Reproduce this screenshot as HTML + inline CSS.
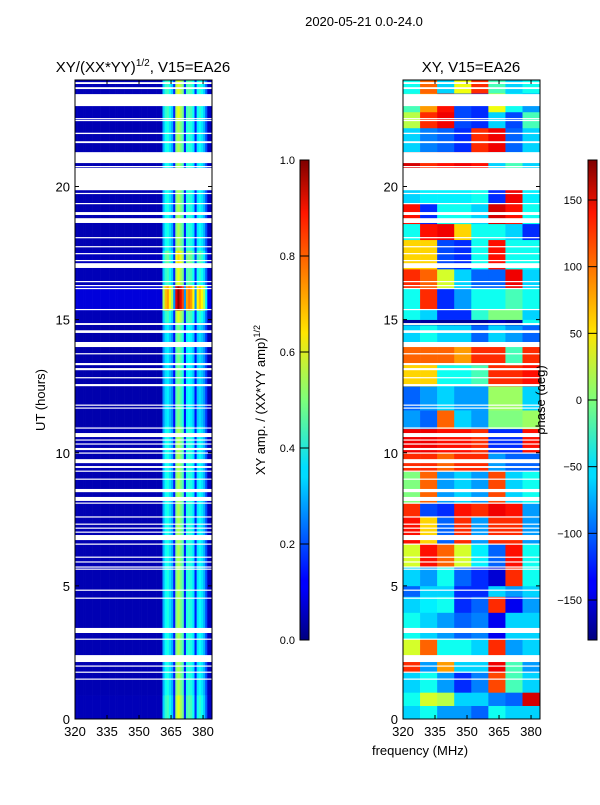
<!DOCTYPE html>
<html><head><meta charset="utf-8"><style>
body{margin:0;background:#fff;width:600px;height:800px;overflow:hidden;font-family:"Liberation Sans",sans-serif}
svg text{font-family:"Liberation Sans",sans-serif;fill:#000}
</style></head><body>
<svg id="fig" width="600" height="800" xmlns="http://www.w3.org/2000/svg">
<defs>
<linearGradient id="jet" x1="0" y1="1" x2="0" y2="0">
<stop offset="0" stop-color="#00007f"/><stop offset="0.11" stop-color="#0000ff"/><stop offset="0.125" stop-color="#0000ff"/>
<stop offset="0.34" stop-color="#00dbff"/><stop offset="0.36" stop-color="#0df"/><stop offset="0.5" stop-color="#7dff7a"/>
<stop offset="0.64" stop-color="#ffe500"/><stop offset="0.89" stop-color="#ff1600"/><stop offset="1" stop-color="#7f0000"/>
</linearGradient>
</defs>
<text x="364" y="26" font-size="13" text-anchor="middle">2020-05-21 0.0-24.0</text>
<text x="143" y="72" font-size="15" text-anchor="middle">XY/(XX*YY)<tspan font-size="10" dy="-6">1/2</tspan><tspan dy="6">, V15=EA26</tspan></text>
<text x="471" y="72" font-size="15" text-anchor="middle">XY, V15=EA26</text>
<g id="leftPanel"></g>
<g id="rightPanel"></g>
<g id="axes"></g>
<text transform="translate(45,400) rotate(-90)" font-size="13" text-anchor="middle">UT (hours)</text>
<text transform="translate(265,400) rotate(-90)" font-size="13" text-anchor="middle">XY amp. / (XX*YY amp)<tspan font-size="9" dy="-5">1/2</tspan></text>
<text transform="translate(545,400) rotate(-90)" font-size="13" text-anchor="middle">phase (deg)</text>
<text x="420" y="755" font-size="13" text-anchor="middle">frequency (MHz)</text>
<rect x="300" y="160" width="9" height="480" fill="url(#jet)" stroke="#000" stroke-width="1"/>
<rect x="588" y="160" width="9" height="480" fill="url(#jet)" stroke="#000" stroke-width="1"/>
</svg>
<script>
// ---- data ----
const freqStart = 320;
const ampProfile = [0.05,0.05,0.05,0.05,0.05,0.05,0.05,0.05,0.05,0.05,0.05,0.05,0.05,0.05,0.05,0.05,0.05,0.05,0.05,0.05,0.05,0.05,0.05,0.05,0.05,0.05,0.05,0.05,0.05,0.05,0.05,0.05,0.05,0.05,0.05,0.05,0.05,0.05,0.05,0.05,0.05,
  0.3,0.38,0.4,0.35,0.3,0.15,0.5,0.55,0.5,0.45,0.15,0.4,0.42,0.4,0.35,0.15,0.35,0.38,0.35,0.3,0.2,0.06,0.06];
const ampBandStart = [0,0.9,11,14.9,15.35,16.3,17,17.6,22.5];
const ampBandEnd   = [0.9,11,14.9,15.35,16.3,17,17.6,22.5,24];
const ampBandScale = [1.1,1.0,0.9,1.1,1.8,1.1,1.2,1.0,1.1];
const gapStart = [23.85,23.66,23.02,22.53,22.46,21.97,21.63,20.88,20.74,19.86,19.72,19.34,18.93,18.63,18.06,17.72,17.46,17.2,16.94,16.41,16.26,16.15,15.36,14.8,14.5,13.97,13.7,13.29,13.1,12.8,12.5,
  11.77,11.66,10.91,10.59,10.46,10.31,10.1,9.97,9.61,9.43,9.29,8.99,8.52,8.19,8.09,7.57,7.3,7.15,7.0,6.72,6.55,6.06,5.88,5.69,5.61,4.82,4.52,3.23,2.98,2.14,1.97,1.74,1.48];
const gapEnd = [23.92,23.73,23.47,22.57,22.5,22.02,21.7,21.29,20.77,20.7,19.76,19.38,19.04,18.81,18.1,17.76,17.5,17.24,17.12,16.45,16.3,16.19,15.4,14.87,14.6,14.16,13.74,13.37,13.18,12.84,12.58,
  11.81,11.7,10.95,10.74,10.5,10.35,10.18,10.01,9.76,9.5,9.33,9.03,8.64,8.34,8.13,7.61,7.34,7.19,7.04,6.91,6.59,6.1,5.92,5.73,5.65,4.86,4.56,3.42,3.02,2.4,2.01,1.78,1.52];
const phaseFreqEdges = [320,328,336,344,352,360,368,376,384.2];
const phaseBandStart = [0,0.5,1.0,1.75,2.4,3.0,3.5,4.0,4.6,5.0,5.7,6.6,7.0,7.6,8.1,8.7,9.3,10.0,10.9,11.6,12.5,13.3,14.0,14.8,15.0,15.4,16.2,16.9,18.0,18.6,19.35,19.9,21.3,22.2,22.8,23.5];
const phaseBandEnd   = [0.5,1.0,1.75,2.4,3.0,3.5,4.0,4.6,5.0,5.7,6.6,7.0,7.6,8.1,8.7,9.3,10.0,10.9,11.6,12.5,13.3,14.0,14.8,15.0,15.4,16.2,16.9,18.0,18.6,19.35,19.9,21.3,22.2,22.8,23.5,24];
const phaseValues = [
 [-60,-40,-80,-80,-100,-40,-60,-60],
 [-40,30,20,-60,-60,-90,-100,150],
 [-60,-40,-80,-120,-90,110,-20,-60],
 [120,-80,80,-60,-60,140,-20,-80],
 [30,100,-40,-40,-60,120,-80,-60],
 [-40,-60,-80,-100,-90,-140,-60,-60],
 [-40,-60,-80,-100,-90,-140,-60,-60],
 [-60,-50,-40,-120,-100,120,-140,-80],
 [-100,-60,-60,-120,-120,-60,-80,-60],
 [-60,-80,-40,-100,-120,-150,120,-40],
 [30,130,100,30,-50,-100,130,-40],
 [130,60,-100,120,-80,120,120,-80],
 [130,60,-100,120,-80,120,120,-80],
 [120,-110,-120,130,120,140,130,-80],
 [0,100,-80,-60,-80,110,-60,-40],
 [0,100,-80,-60,-80,110,-60,-40],
 [120,120,100,120,120,-80,-100,-100],
 [140,140,130,130,120,-120,-120,130],
 [-80,-100,100,-60,-80,0,0,10],
 [-100,-80,-60,-80,-80,10,10,-60],
 [60,60,-40,-40,-20,120,120,130],
 [100,100,100,80,120,120,-20,120],
 [-60,-40,-60,-60,-100,-60,-80,-100],
 [-170,-170,-170,-170,-170,-160,-170,-40],
 [-40,-60,-120,-120,-30,0,0,-60],
 [-40,120,-120,-80,-40,-40,-20,-40],
 [120,100,30,-60,-100,-100,140,-60],
 [60,60,-110,-120,-40,130,-40,-40],
 [-40,130,140,60,-40,-40,-60,-120],
 [130,-120,-40,-40,-60,150,130,-40],
 [-60,-50,-50,-50,-40,-120,140,-50],
 [150,120,130,140,130,-60,-20,-60],
 [-60,-90,-100,-120,120,140,-100,-60],
 [20,120,140,-110,-120,-60,-110,-20],
 [-20,80,130,-110,-120,40,-40,-80],
 [-40,100,-60,40,120,-20,-60,-40]];
const xTicks = [320,335,350,365,380];
const yTicks = [0,5,10,15,20];
const ampTicks = [0,0.2,0.4,0.6,0.8,1.0];
const phaseTicks = [-150,-100,-50,0,50,100,150];

// ---- geometry ----
const NS='http://www.w3.org/2000/svg';
const TOP=80, BOT=719, FMAX=384.2;
const yS = h => BOT - (h/24)*(BOT-TOP);
const xL = f => 75 + (f-320)/(FMAX-320)*(212-75);
const xR = f => 403 + (f-320)/(FMAX-320)*(540-403);
function jet(v){v=Math.max(0,Math.min(1,v));
 const r=Math.max(0,Math.min(1,1.5-Math.abs(4*v-3))),g=Math.max(0,Math.min(1,1.5-Math.abs(4*v-2))),b=Math.max(0,Math.min(1,1.5-Math.abs(4*v-1)));
 return `rgb(${Math.round(r*255)},${Math.round(g*255)},${Math.round(b*255)})`;}
function mk(parent,tag,attrs){const e=document.createElementNS(NS,tag);for(const k in attrs)e.setAttribute(k,attrs[k]);parent.appendChild(e);return e;}

const L=document.getElementById('leftPanel');
ampBandStart.forEach((s,bi)=>{
 ampProfile.forEach((v,j)=>{
  const f=freqStart+j;
  const r=mk(L,'rect',{x:xL(f),y:yS(ampBandEnd[bi]),width:xL(f+1)-xL(f)+0.3,height:yS(s)-yS(ampBandEnd[bi])+0.3,fill:jet(v*ampBandScale[bi])});
  
  
 });
});
const R=document.getElementById('rightPanel');
phaseBandStart.forEach((s,bi)=>{
 phaseValues[bi].forEach((p,j)=>{
  const f0=phaseFreqEdges[j],f1=phaseFreqEdges[j+1];
  const r=mk(R,'rect',{x:xR(f0),y:yS(phaseBandEnd[bi]),width:xR(f1)-xR(f0)+0.3,height:yS(s)-yS(phaseBandEnd[bi])+0.3,fill:jet((p+180)/360)});
  
  
 });
});
gapStart.forEach((s,i)=>{
 [[75,212],[403,540]].forEach(([a,b])=>{
  const g=mk(document.getElementById('fig'),'rect',{x:a,y:yS(gapEnd[i]),width:b-a,height:Math.max(1.2,yS(s)-yS(gapEnd[i])),fill:'#fff'});
  
  
 });
});
const A=document.getElementById('axes');
document.getElementById('fig').appendChild(A);
[[75,212,xL],[403,540,xR]].forEach(([a,b,xf],pi)=>{
 const fr=mk(A,'rect',{x:a,y:TOP,width:b-a,height:BOT-TOP,fill:'none',stroke:'#000','stroke-width':1});
 
 
 xTicks.forEach(t=>{
  const x=xf(t);
  mk(A,'line',{x1:x,y1:BOT,x2:x,y2:BOT-4,stroke:'#000'});
  mk(A,'line',{x1:x,y1:TOP,x2:x,y2:TOP+4,stroke:'#000'});
  const tx=mk(A,'text',{x:x,y:BOT+17,'font-size':13,'text-anchor':'middle'});tx.textContent=t;
  
  
 });
 yTicks.forEach(t=>{
  const y=yS(t);
  mk(A,'line',{x1:a,y1:y,x2:a+4,y2:y,stroke:'#000'});
  mk(A,'line',{x1:b,y1:y,x2:b-4,y2:y,stroke:'#000'});
  const tx=mk(A,'text',{x:a-5,y:y+5,'font-size':13,'text-anchor':'end'});tx.textContent=t;
  
  
 });
});
ampTicks.forEach(t=>{
 const y=640-t*480;
 mk(A,'line',{x1:300,y1:y,x2:309,y2:y,stroke:'#000'});
 const tx=mk(A,'text',{x:295,y:y+4,'font-size':11,'text-anchor':'end'});tx.textContent=t.toFixed(1);
 
 
});
phaseTicks.forEach(t=>{
 const y=640-(t+180)/360*480;
 mk(A,'line',{x1:588,y1:y,x2:597,y2:y,stroke:'#000'});
 const tx=mk(A,'text',{x:582,y:y+4,'font-size':11,'text-anchor':'end'});tx.textContent=t<0?'\u2212'+(-t):t;
 
 
});
</script>
</body></html>
